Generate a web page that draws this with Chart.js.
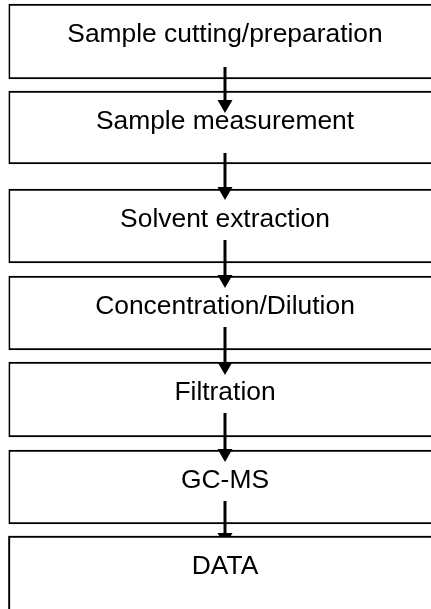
<!DOCTYPE html>
<html lang="en">
<head>
    <meta charset="UTF-8">
    <title>Sample workflow</title>
    <script src="https://cdn.jsdelivr.net/npm/chart.js@4"></script>
    <style>
      html, body { margin: 0; padding: 0; background: #fff; overflow: hidden; }
      #wrap { width: 450px; height: 609px; }
    </style>
</head>
<body>
  <div id="wrap">
    <canvas id="flowChart" width="450" height="609"></canvas>
  </div>

  <script>
    // Pasos del proceso (y runs downward)
    const steps = ['Sample cutting/preparation', 'Sample measurement', 'Solvent extraction',
                   'Concentration/Dilution', 'Filtration', 'GC-MS', 'DATA'];
    const boxTop = [4, 91, 189, 276, 362, 450, 536];
    const boxBottom = [79, 164, 263, 350, 437, 524, 620];
    const arrowFrom = [67, 153, 240, 327, 413, 501];
    const arrowTo = [113, 200, 288, 375, 462, 546];

    // Texto y flechas
    const flowPlugin = {
      id: 'flow',
      afterDatasetsDraw(chart) {
        const ctx = chart.ctx;
        const yScale = chart.scales.y;
        const cx = chart.getDatasetMeta(0).data[0].x;
        ctx.save();
        // arrows
        ctx.fillStyle = '#000';
        ctx.strokeStyle = '#000';
        arrowFrom.forEach((v, i) => {
          const y0 = yScale.getPixelForValue(v);
          const y1 = yScale.getPixelForValue(arrowTo[i]);
          ctx.lineWidth = 3;
          ctx.beginPath();
          ctx.moveTo(cx, y0);
          ctx.lineTo(cx, y1 - 12);
          ctx.stroke();
          ctx.beginPath();
          ctx.moveTo(cx - 7.5, y1 - 13);
          ctx.lineTo(cx + 7.5, y1 - 13);
          ctx.lineTo(cx, y1);
          ctx.closePath();
          ctx.fill();
        });
        // last box sits over its arrow
        chart.getDatasetMeta(steps.length - 1).data[0].draw(ctx);
        // labels
        ctx.font = '26.4px "Liberation Sans", Arial, sans-serif';
        ctx.textAlign = 'center';
        ctx.textBaseline = 'alphabetic';
        ctx.fillStyle = '#000';
        steps.forEach((s, i) => {
          ctx.fillText(s, cx, yScale.getPixelForValue(boxTop[i]) + 38);
        });
        ctx.restore();
      }
    };

    new Chart(document.getElementById('flowChart'), {
      type: 'bar',
      data: {
        labels: [''],
        datasets: steps.map((s, i) => ({
          label: s,
          data: [[boxTop[i], boxBottom[i]]],
          backgroundColor: '#fff',
          borderColor: '#000',
          borderWidth: 2,
          borderSkipped: false,
          grouped: false,
          barPercentage: 1,
          categoryPercentage: 1
        }))
      },
      options: {
        responsive: false,
        animation: false,
        layout: { padding: { left: 8.5, right: 8.5, top: 0, bottom: 0 } },
        plugins: { legend: { display: false }, tooltip: { enabled: false } },
        scales: {
          x: { display: false },
          y: { display: false, min: 0, max: 609, reverse: true }
        }
      },
      plugins: [flowPlugin]
    });
  </script>
</body>
</html>
